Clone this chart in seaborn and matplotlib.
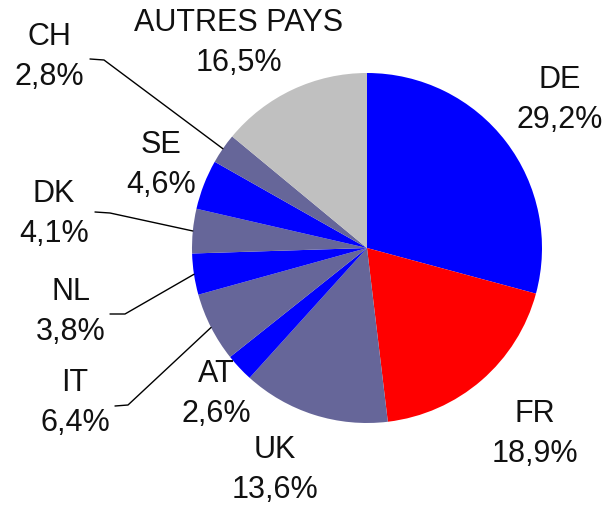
import numpy as np
import matplotlib.pyplot as plt
import seaborn as sns

countries = ["DE", "FR", "UK", "AT", "IT", "NL", "DK", "SE", "CH", "AUTRES PAYS"]
# share printed next to each slice
printed_share = [29.2, 18.9, 13.6, 2.6, 6.4, 3.8, 4.1, 4.6, 2.8, 16.5]
# share drawn as the slice (the "autres" slice is drawn smaller than its label)
slice_share = [29.2, 18.9, 13.6, 2.6, 6.4, 3.8, 4.1, 4.6, 2.8, 14.0]
slice_colors = ["#0000ff", "#ff0000", "#666699", "#0000ff", "#666699",
                "#0000ff", "#666699", "#0000ff", "#666699", "#c0c0c0"]

sns.set_style("white")
plt.rcParams["font.family"] = ["Liberation Sans", "DejaVu Sans"]

W, H = 606, 510
fig = plt.figure(figsize=(W / 100, H / 100), dpi=100)
ax = fig.add_axes([0, 0, 1, 1])

cx, cy, r = 367, H - 249, 175
wedges, _ = ax.pie(slice_share, colors=slice_colors, startangle=90,
                   counterclock=False, center=(cx, cy), radius=r,
                   wedgeprops=dict(linewidth=0))
ax.set_xlim(0, W)
ax.set_ylim(0, H)
ax.set_aspect("equal")
ax.axis("off")

# label block centres, pixels from top-left
label_pos = {
    "DE": (560, 100), "FR": (535, 434), "UK": (275, 470), "AT": (216, 394),
    "IT": (75, 403), "NL": (71, 312), "DK": (54, 214), "SE": (161, 165),
    "CH": (49, 57), "AUTRES PAYS": (239, 43),
}
# leader lines: start point and elbow, pixels from top-left
leaders = {
    "CH": [(90, 60), (104, 61)],
    "DK": [(95, 213), (110, 214)],
    "NL": [(110, 315), (125, 315)],
    "IT": [(115, 407), (128, 406)],
}

for w, name, pct in zip(wedges, countries, printed_share):
    x, y = label_pos[name]
    txt = name + "\n" + f"{pct:.1f}".replace(".", ",") + "%"
    ax.text(x, H - y, txt, ha="center", va="center", fontsize=22,
            linespacing=1.42, color="#111111")
    if name in leaders:
        mid = np.deg2rad((w.theta1 + w.theta2) / 2)
        pts = leaders[name]
        xs = [p[0] for p in pts] + [cx + r * np.cos(mid)]
        ys = [H - p[1] for p in pts] + [cy + r * np.sin(mid)]
        ax.plot(xs, ys, color="black", lw=1.0)

fig.savefig("out.png", dpi=100)
